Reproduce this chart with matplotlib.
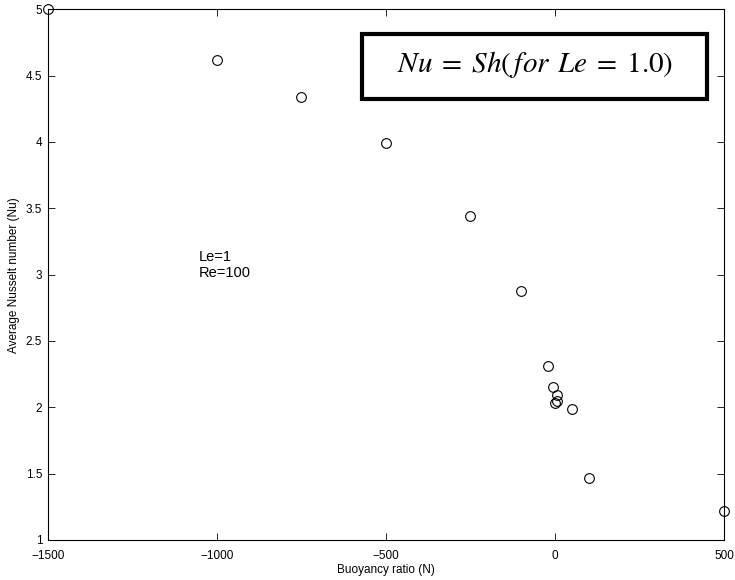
import matplotlib
matplotlib.use("Agg")
import matplotlib.pyplot as plt
from matplotlib.patches import Rectangle

plt.rcParams['font.family'] = ['Liberation Sans', 'DejaVu Sans']
plt.rcParams['mathtext.fontset'] = 'stix'

buoyancy_ratio = [-1500, -1000, -750, -500, -250, -100, -20, -5, 5, 5, 0, 50, 100, 500]
nusselt = [5.0, 4.62, 4.34, 3.99, 3.44, 2.88, 2.31, 2.15, 2.09, 2.05, 2.03, 1.99, 1.47, 1.22]

xticks = [-1500, -1000, -500, 0, 500]
yticks = [1, 1.5, 2, 2.5, 3, 3.5, 4, 4.5, 5]
yticklabels = ['1', '1.5', '2', '2.5', '3', '3.5', '4', '4.5', '5']

fig = plt.figure(figsize=(7.35, 5.8), dpi=100)
ax = fig.add_axes([0.065, 0.069, 0.92, 0.915])

ax.plot(buoyancy_ratio, nusselt, linestyle='none', marker='o', markersize=7,
        markerfacecolor='none', markeredgecolor='black', markeredgewidth=0.8,
        clip_on=False, zorder=5)

ax.set_xlim(-1500, 500)
ax.set_ylim(1, 5)
ax.set_xticks(xticks)
ax.set_xticklabels([f"\u2212{abs(v)}" if v < 0 else str(v) for v in xticks])
ax.set_yticks(yticks)
ax.set_yticklabels(yticklabels)
ax.tick_params(direction='in', top=True, right=True, length=5, width=0.6,
               labelsize=8.5)
ax.tick_params(axis='x', pad=7)
ax.tick_params(axis='y', pad=4)
for s in ax.spines.values():
    s.set_linewidth(0.8)

ax.set_xlabel('Buoyancy ratio (N)', fontsize=8.5, labelpad=2)
ax.set_ylabel('Average Nusselt number (Nu)', fontsize=8.5, labelpad=4)

ax.text(0.224, 0.546, 'Le=1\nRe=100', transform=ax.transAxes, fontsize=10.5,
        ha='left', va='top', linespacing=1.15)

rect = Rectangle((0.465, 0.830), 0.510, 0.123, transform=ax.transAxes,
                 fill=False, edgecolor='black', linewidth=3, zorder=6)
ax.add_patch(rect)
ax.text(0.720, 0.896, r'$Nu\;=\;Sh(\,for\;\,Le\;=\;1.0)$', transform=ax.transAxes,
        fontsize=21, ha='center', va='center', zorder=7)

fig.savefig('out.png', dpi=100)
